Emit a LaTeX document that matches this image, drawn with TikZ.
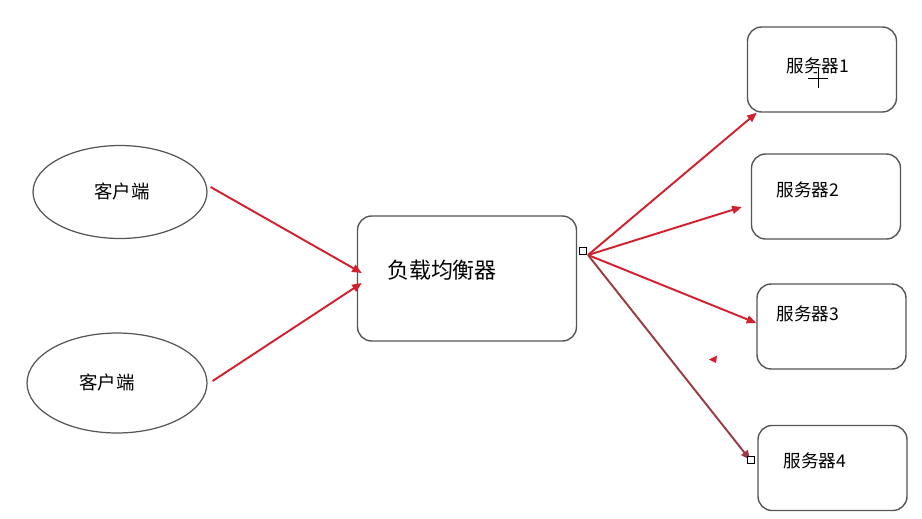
\documentclass[tikz,border=0pt]{standalone}
\usepackage{fontspec}
\newfontfamily\cjk{Noto Sans CJK SC}
\usetikzlibrary{arrows.meta,shapes.geometric,calc}
\definecolor{arrred}{HTML}{D2202F}
\definecolor{selred}{HTML}{9A3A42}
\definecolor{boxgray}{HTML}{555555}
\tikzset{
  client/.style={draw=boxgray, line width=0.7pt, ellipse, minimum width=#1},
  srvbox/.style={draw=boxgray, line width=0.8pt, rounded corners=8pt, minimum width=2.98cm, minimum height=1.70cm, inner sep=0pt},
  lbbox/.style={draw=boxgray, line width=0.8pt, rounded corners=8pt, minimum width=4.38cm, minimum height=2.50cm, inner sep=0pt},
  lbl/.style={font=\cjk\fontsize{10pt}{12pt}\selectfont, inner sep=0pt},
  cllbl/.style={font=\cjk\fontsize{10.5pt}{12pt}\selectfont, inner sep=0pt},
  biglbl/.style={font=\cjk\fontsize{12.5pt}{14pt}\selectfont, inner sep=0pt},
  conn/.style={draw=arrred, line width=1.1pt, -{Triangle[length=5.5pt,width=4.5pt]}},
  selconn/.style={draw=selred, line width=1.1pt, -{Triangle[length=5.5pt,width=4.5pt]}},
  handle/.style={draw=black, fill=white, line width=0.4pt, minimum size=3.8pt, inner sep=0pt}
}
\begin{document}
\begin{tikzpicture}[x=0.02cm, y=-0.02cm]
\useasboundingbox (0,0) rectangle (922,518);
% clients
\node[client=3.48cm, minimum height=1.86cm] (c1) at (120,192) {};
\node[client=3.60cm, minimum height=2.00cm] (c2) at (117,383) {};
\node[cllbl] (c1t) at (122,191) {客户端};
\node[cllbl] (c2t) at (107,382) {客户端};
% load balancer
\node[lbbox] (lb) at (467,278.5) {};
\node[biglbl] (lbt) at (442,270) {负载均衡器};
% servers
\node[srvbox] (s1) at (822,69.5) {};
\node[srvbox] (s2) at (826,196.5) {};
\node[srvbox] (s3) at (831.5,326.5) {};
\node[srvbox] (s4) at (832.5,468) {};
\node[lbl] (s1t) at (818,66) {服务器1};
\node[lbl] (s2t) at (808,190) {服务器2};
\node[lbl] (s3t) at (808,314) {服务器3};
\node[lbl] (s4t) at (815,461) {服务器4};
% hub coordinate
\coordinate (hub) at (588,255);
\coordinate (lbin1) at ($(lb.west)+(5,-5.5)$);
\coordinate (lbin2) at ($(lb.west)+(5,4.5)$);
% connectors in
\draw[conn] ($(c1.east)+(3,-5)$) -- (lbin1);
\draw[conn] ($(c2.east)+(5,-2)$) -- (lbin2);
% connectors out
\draw[conn] (hub) -- ($(s1.south west)+(10,0)$);
\draw[conn] (hub) -- ($(s2.west)+(-9,10.5)$);
\draw[conn] (hub) -- ($(s3.west)+(0,-3.5)$);
\coordinate (s4end) at ($(s4.west)+(-7,-8)$);
\draw[selconn] (hub) -- (s4end);
% selection handles
\node[handle] (h1) at (583,251) {};
\node[handle] (h2) at (751,460) {};
% stray arrowhead
\fill[arrred] (709,359.5) -- (717,355.5) -- (716,363) -- cycle;
% cursor
\draw[white, line width=1.6pt] (808,78) -- (828,78) (818,68) -- (818,88);
\draw[black, line width=0.5pt] (808,78) -- (828,78) (818,68) -- (818,88);
\end{tikzpicture}
\end{document}
